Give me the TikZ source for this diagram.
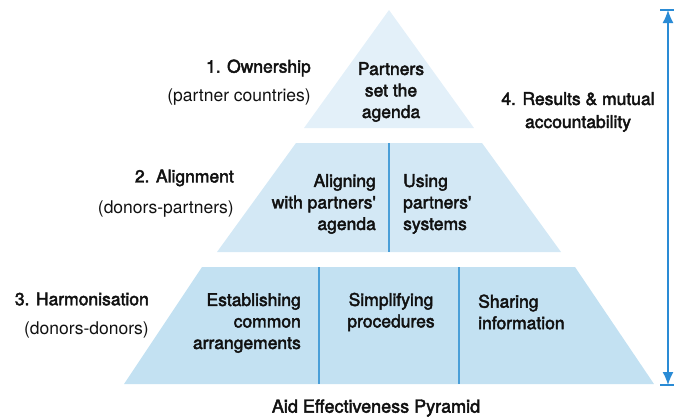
\documentclass[tikz,border=0pt]{standalone}
\usepackage{fontspec}
\setmainfont{TeX Gyre Heros}
\newfontfamily\medfont{TeX Gyre Heros}[FakeBold=2.5]
\usetikzlibrary{arrows.meta}
\definecolor{tierA}{HTML}{E3F0F9}
\definecolor{tierB}{HTML}{D3E8F5}
\definecolor{tierC}{HTML}{C3E1F2}
\definecolor{divblue}{HTML}{4A9FD8}
\definecolor{arrblue}{HTML}{2A8BD5}
\definecolor{txt}{HTML}{111111}
\tikzset{
  lbl/.style={inner sep=0pt, text=txt, font=\medfont\fontsize{17.5bp}{21.5bp}\selectfont},
  sublbl/.style={inner sep=0pt, text=txt, font=\fontsize{17.5bp}{21.5bp}\selectfont},
  divider/.style={draw=divblue, line width=1.5bp},
  arrowline/.style={draw=arrblue, line width=1.5bp}
}
\begin{document}
\begin{tikzpicture}[x=1bp, y=-1bp]
\useasboundingbox (0,0) rectangle (674,419);
% tiers
\fill[tierA] (389,10) -- (474,128) -- (304,128) -- cycle;
\fill[tierB] (296,143) -- (482,143) -- (561,252) -- (217,252) -- cycle;
\fill[tierC] (202,267) -- (575,267) -- (654,384) -- (124,384) -- cycle;
% dividers
\coordinate (d1t) at (389,143); \coordinate (d1b) at (389,252);
\coordinate (d2t) at (319,267); \coordinate (d2b) at (319,384);
\coordinate (d3t) at (459,267); \coordinate (d3b) at (459,384);
\draw[divider] (d1t) -- (d1b);
\draw[divider] (d2t) -- (d2b);
\draw[divider] (d3t) -- (d3b);
% side labels
\node[lbl, anchor=east] (own) at (311,68) {1. Ownership};
\node[sublbl, anchor=east] (ownsub) at (311,97) {(partner countries)};
\node[lbl, anchor=east] (ali) at (234,178) {2. Alignment};
\node[sublbl, anchor=east] (alisub) at (234,209) {(donors-partners)};
\node[lbl, anchor=east] (har) at (149,299) {3. Harmonisation};
\node[sublbl, anchor=east] (harsub) at (149,330) {(donors-donors)};
% pyramid texts
\node[lbl, align=center] (ptop) at (391,92) {Partners\\set the\\agenda};
\node[lbl, align=right, anchor=east] (aligning) at (376,204) {Aligning\\with partners\textquotesingle\\agenda};
\node[lbl, align=left, anchor=west] (using) at (403,204) {Using\\partners\textquotesingle\\systems};
\node[lbl, align=right, anchor=east] (estab) at (301,323) {Establishing\\common\\arrangements};
\node[lbl, align=center] (simpl) at (391,312) {Simplifying\\procedures};
\node[lbl, align=left, anchor=west] (share) at (478,312) {Sharing\\information};
% right label
\node[lbl, align=center, font=\medfont\fontsize{17.5bp}{23bp}\selectfont] (res) at (578,112) {4. Results \& mutual\\accountability};
% title
\node[lbl, font=\medfont\fontsize{18bp}{21bp}\selectfont] (title) at (376,408) {Aid Effectiveness Pyramid};
% arrow
\coordinate (rtop) at (668,10);
\coordinate (rbot) at (668,385);
\draw[arrowline, {Latex[length=13bp,width=11bp]}-{Latex[length=13bp,width=11bp]}] (rtop) -- (rbot);
\draw[arrowline] ([xshift=-8bp]rtop) -- ([xshift=8bp]rtop);
\draw[arrowline] ([xshift=-8bp]rbot) -- ([xshift=8bp]rbot);
\end{tikzpicture}
\end{document}
